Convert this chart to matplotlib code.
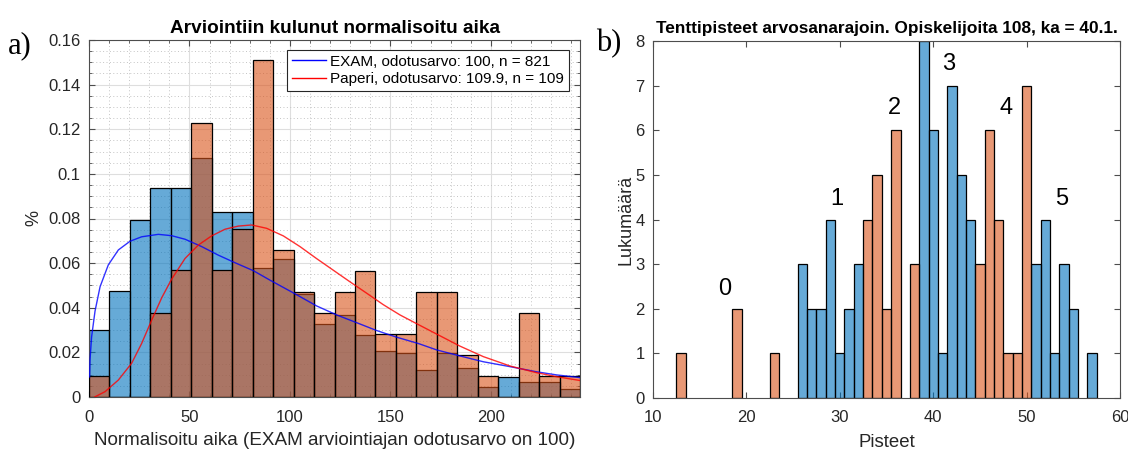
import numpy as np
import matplotlib
matplotlib.use("Agg")
import matplotlib.pyplot as plt
from matplotlib.ticker import MultipleLocator, FuncFormatter

# ---------------- Left panel data ----------------
bin_width = 10.18
exam_prob = [0.0302, 0.0476, 0.0792, 0.0938, 0.0938, 0.1071, 0.0831, 0.0831,
             0.0579, 0.0620, 0.0460, 0.0326, 0.0368, 0.0276, 0.0207, 0.0197,
             0.0119, 0.0197, 0.0132, 0.0047, 0.0090, 0.0065, 0.0065, 0.0035]
paper_prob = [0.0092, 0.0, 0.0, 0.0376, 0.0568, 0.1227, 0.0568, 0.0755,
              0.1510, 0.0661, 0.0471, 0.0377, 0.0471, 0.0566, 0.0282, 0.0282,
              0.0472, 0.0472, 0.0188, 0.0094, 0.0, 0.0377, 0.0094, 0.0092]

exam_curve_x = [0.3, 0.5, 1.3, 3.0, 5.5, 9.6, 14.6, 20.4, 26.2, 34.5, 41.1, 47.8,
                56.1, 64.3, 72.6, 81.8, 90.0, 101.6, 113.3, 123.2, 133.2, 143.1,
                153.1, 163.8, 173.0, 184.6, 196.2, 209.5, 222.7, 232.7, 244.3]
exam_curve_y = [0.0090, 0.0166, 0.0270, 0.0385, 0.0494, 0.0592, 0.0659, 0.0698,
                0.0718, 0.0729, 0.0723, 0.0707, 0.0674, 0.0636, 0.0602, 0.0566,
                0.0524, 0.0467, 0.0408, 0.0368, 0.0333, 0.0298, 0.0268, 0.0240,
                0.0211, 0.0184, 0.0158, 0.0136, 0.0113, 0.0099, 0.0087]

paper_curve_x = [3.0, 8.0, 14.6, 21.2, 26.2, 31.2, 36.2, 41.1, 47.8, 54.4, 61.0,
                 67.7, 74.3, 80.9, 88.4, 96.7, 105.0, 113.3, 121.6, 129.9, 138.2,
                 146.4, 154.7, 163.8, 173.0, 184.6, 196.2, 209.5, 222.7, 232.7, 244.3]
paper_curve_y = [0.0001, 0.0024, 0.0076, 0.0151, 0.0240, 0.0345, 0.0445, 0.0528,
                 0.0621, 0.0681, 0.0722, 0.0752, 0.0766, 0.0771, 0.0756, 0.0722,
                 0.0674, 0.0620, 0.0568, 0.0516, 0.0465, 0.0414, 0.0368, 0.0325,
                 0.0282, 0.0228, 0.0181, 0.0139, 0.0109, 0.0091, 0.0074]

legend_labels = ["EXAM, odotusarvo: 100, n = 821",
                 "Paperi, odotusarvo: 109.9, n = 109"]
left_title = "Arviointiin kulunut normalisoitu aika"
left_xlabel = "Normalisoitu aika (EXAM arviointiajan odotusarvo on 100)"
left_ylabel = "%"

# ---------------- Right panel data ----------------
score_orange = [13, 19, 23, 33, 34, 35, 36, 38, 45, 46, 47, 48, 49, 50]
count_orange = [1, 2, 1, 4, 5, 2, 6, 3, 3, 6, 4, 1, 1, 7]
score_blue = [26, 27, 28, 29, 30, 31, 32, 39, 40, 41, 42, 43, 44,
              51, 52, 53, 54, 55, 57]
count_blue = [3, 2, 2, 4, 1, 2, 3, 8, 6, 1, 7, 5, 4, 3, 4, 1, 3, 2, 1]

grade_labels = ["0", "1", "2", "3", "4", "5"]
grade_x = [17.7, 29.7, 35.8, 41.7, 47.8, 53.8]
grade_y = [2.45, 4.47, 6.49, 7.49, 6.49, 4.47]

right_title = "Tenttipisteet arvosanarajoin. Opiskelijoita 108, ka = 40.1."
right_xlabel = "Pisteet"
right_ylabel = "Lukumäärä"

# ---------------- Style ----------------
plt.rcParams["font.family"] = ["Liberation Sans", "DejaVu Sans"]
AX_COL = "#262626"
SPINE_COL = "#4d4d4d"
BLUE = (0.0, 0.447, 0.741, 0.6)
ORANGE = (0.85, 0.325, 0.098, 0.6)

fig = plt.figure(figsize=(11.28, 4.5), dpi=100)
ax1 = fig.add_axes([89 / 1128, 53 / 450, 491 / 1128, 357 / 450])
ax2 = fig.add_axes([653 / 1128, 52 / 450, 467 / 1128, 357 / 450])

# ---------------- Left panel ----------------
n_bins = len(exam_prob)
edges = np.arange(n_bins) * bin_width
ax1.bar(edges, exam_prob, width=bin_width, align="edge", color=BLUE,
        edgecolor="black", linewidth=0.9, zorder=2)
ax1.bar(edges, paper_prob, width=bin_width, align="edge", color=ORANGE,
        edgecolor="black", linewidth=0.9, zorder=3)
l1, = ax1.plot(exam_curve_x, exam_curve_y, color="blue", lw=1.0, alpha=0.8, zorder=4)
l2, = ax1.plot(paper_curve_x, paper_curve_y, color="red", lw=1.0, alpha=0.8, zorder=4)

ax1.set_xlim(0, n_bins * bin_width)
ax1.set_ylim(0, 0.16)
ax1.xaxis.set_major_locator(MultipleLocator(50))
ax1.xaxis.set_minor_locator(MultipleLocator(10))
ax1.yaxis.set_major_locator(MultipleLocator(0.02))
ax1.yaxis.set_minor_locator(MultipleLocator(0.005))
ax1.yaxis.set_major_formatter(FuncFormatter(lambda v, p: "%g" % round(v, 3)))
ax1.set_axisbelow(True)
ax1.grid(which="major", color="#dedede", lw=0.8, ls="-")
ax1.grid(which="minor", color="#c4c4c4", lw=0.7, ls=(0, (1, 2.5)))
ax1.tick_params(which="both", direction="in", top=True, right=True,
                colors=SPINE_COL, labelcolor=AX_COL, labelsize=12)
ax1.tick_params(which="major", length=4)
ax1.tick_params(axis="x", which="major", pad=9)
ax1.tick_params(axis="y", which="major", pad=6)
ax1.tick_params(which="minor", length=2)
for s in ax1.spines.values():
    s.set_color(SPINE_COL)
    s.set_linewidth(0.8)
ax1.set_title(left_title, fontsize=13.7, fontweight="bold", color="black", pad=5)
ax1.set_xlabel(left_xlabel, fontsize=13.6, color=AX_COL)
ax1.xaxis.set_label_coords(0.5, -0.098)
ax1.set_ylabel(left_ylabel, fontsize=13, color=AX_COL)
ax1.yaxis.set_label_coords(-0.095, 0.5)
leg = ax1.legend([l1, l2], legend_labels, loc="upper right",
                 bbox_to_anchor=(0.977, 0.972), fontsize=11, fancybox=False,
                 framealpha=1, edgecolor="#262626", borderaxespad=0,
                 handlelength=2.2, handletextpad=0.3, borderpad=0.3,
                 labelspacing=0.25)
leg.get_frame().set_linewidth(0.8)
for line in leg.get_lines():
    line.set_alpha(1.0)

# ---------------- Right panel ----------------
ax2.bar(score_blue, count_blue, width=1.0, color=BLUE, edgecolor="black",
        linewidth=0.9, zorder=2)
ax2.bar(score_orange, count_orange, width=1.0, color=ORANGE, edgecolor="black",
        linewidth=0.9, zorder=2)
for lab, gx, gy in zip(grade_labels, grade_x, grade_y):
    ax2.text(gx, gy, lab, fontsize=17, ha="center", va="center", color="black")
ax2.set_xlim(10, 60)
ax2.set_ylim(0, 8)
ax2.xaxis.set_major_locator(MultipleLocator(10))
ax2.yaxis.set_major_locator(MultipleLocator(1))
ax2.tick_params(direction="in", top=True, right=True, length=4,
                colors=SPINE_COL, labelcolor=AX_COL, labelsize=12)
ax2.tick_params(axis="x", pad=9)
ax2.tick_params(axis="y", pad=6)
for s in ax2.spines.values():
    s.set_color(SPINE_COL)
    s.set_linewidth(0.8)
ax2.set_title(right_title, fontsize=12.4, fontweight="bold", color="black", pad=6)
ax2.set_xlabel(right_xlabel, fontsize=13.4, color=AX_COL)
ax2.xaxis.set_label_coords(0.5, -0.1)
ax2.set_ylabel(right_ylabel, fontsize=13, color=AX_COL)
ax2.yaxis.set_label_coords(-0.04, 0.5)

# panel letters
fig.text(8 / 1128, 1 - 46 / 450, "a)", fontsize=22, family=["Liberation Serif", "DejaVu Serif"],
         ha="left", va="center")
fig.text(596 / 1128, 1 - 44 / 450, "b)", fontsize=22, family=["Liberation Serif", "DejaVu Serif"],
         ha="left", va="center")

fig.savefig("out.png", dpi=100)
